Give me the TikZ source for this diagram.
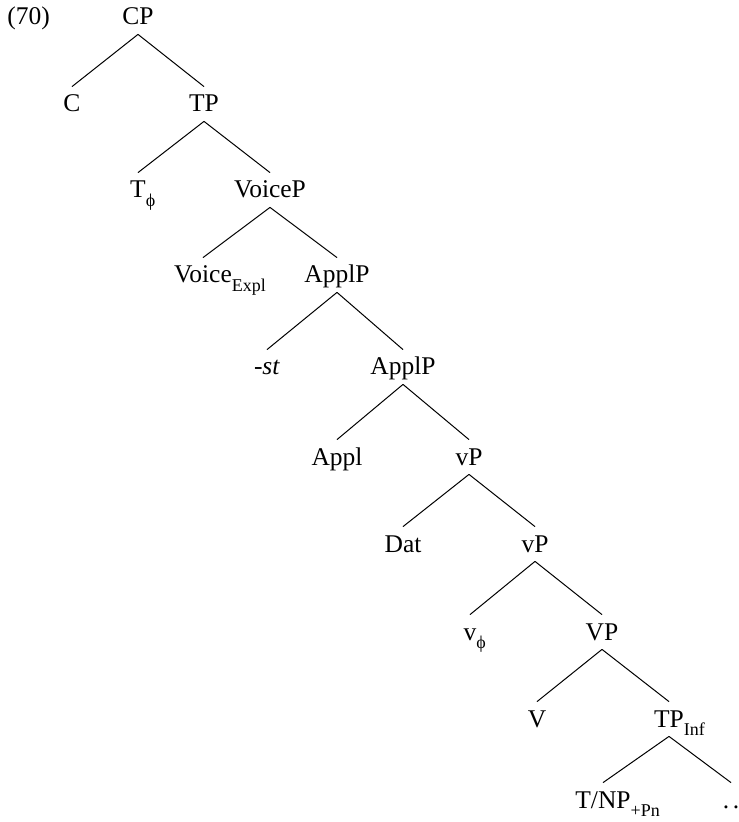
\documentclass[tikz,border=0pt]{standalone}
\usepackage{fontspec}
\setmainfont{Liberation Serif}
% subscript that takes no width, so the node stays centred on its word
\newcommand{\lowidx}[1]{\rlap{\raisebox{-4.2pt}{\fontsize{9}{10}\selectfont #1}}}
\tikzset{
  cat/.style={anchor=base, inner sep=0pt, text height=12.5pt, text depth=4.5pt},
  branch/.style={line width=0.5pt}
}
\begin{document}
\begin{tikzpicture}[x=0.5pt, y=-0.5pt, font=\fontsize{12.75}{15}\selectfont]

                    \useasboundingbox (0,0) rectangle (738,822);

                    % example number
                    \node[anchor=base west, inner sep=0pt] (num) at (7,25) {(70)};

                    % CP
                    \node[cat] (cp) at (138,25) {CP};
                    \node[cat] (c) at (72,112) {C};
                    \node[cat] (tp) at (204,112) {TP};
                    % TP
                    \node[cat] (t) at (138,198) {T\lowidx{ϕ}};
                    \node[cat] (voicep) at (270,198) {VoiceP};
                    % VoiceP
                    \node[cat] (voice) at (203,283) {Voice\lowidx{Expl}};
                    \node[cat] (applp) at (337,283) {ApplP};
                    % ApplP
                    \node[cat] (st) at (267,375) {-\textit{st}};
                    \node[cat] (applpb) at (403,375) {ApplP};
                    \node[cat] (appl) at (337,465) {Appl};
                    \node[cat] (vp) at (469,465) {vP};
                    % vP
                    \node[cat] (dat) at (403,552) {Dat};
                    \node[cat] (vpb) at (535,552) {vP};
                    \node[cat] (v) at (470,640) {v\lowidx{ϕ}};
                    \node[cat] (vpc) at (602,640) {VP};
                    % VP
                    \node[cat] (verb) at (537,727) {V};
                    \node[cat] (tpinf) at (669,727) {TP\lowidx{Inf}};
                    % TP_Inf
                    \node[cat] (tnp) at (603,808) {T/NP\lowidx{+Pn}};
                    \node[cat] (dots) at (731,808) {.\kern1.8pt.};

                    % branches
                    \draw[branch] (cp.south) -- (c.north);
                    \draw[branch] (cp.south) -- (tp.north);
                    \draw[branch] (tp.south) -- (t.north);
                    \draw[branch] (tp.south) -- (voicep.north);
                    \draw[branch] (voicep.south) -- (voice.north);
                    \draw[branch] (voicep.south) -- (applp.north);
                    \draw[branch] (applp.south) -- (st.north);
                    \draw[branch] (applp.south) -- (applpb.north);
                    \draw[branch] (applpb.south) -- (appl.north);
                    \draw[branch] (applpb.south) -- (vp.north);
                    \draw[branch] (vp.south) -- (dat.north);
                    \draw[branch] (vp.south) -- (vpb.north);
                    \draw[branch] (vpb.south) -- (v.north);
                    \draw[branch] (vpb.south) -- (vpc.north);
                    \draw[branch] (vpc.south) -- (verb.north);
                    \draw[branch] (vpc.south) -- (tpinf.north);
                    \draw[branch] (tpinf.south) -- (tnp.north);
                    \draw[branch] (tpinf.south) -- (dots.north);

                \end{tikzpicture}
\end{document}
